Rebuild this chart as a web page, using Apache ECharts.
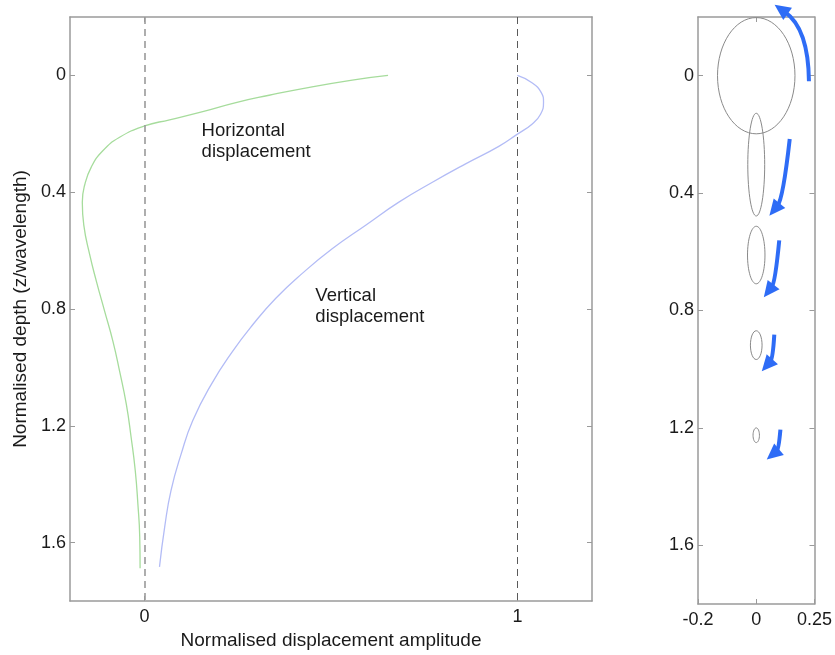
<!DOCTYPE html>
<html>
<head>
<meta charset="utf-8">
<script src="https://cdn.jsdelivr.net/npm/echarts@6/dist/echarts.min.js"></script>
<style>
html,body{margin:0;padding:0;background:#fff;}
#chart{width:835px;height:655px;}
</style>
</head>
<body>
<div id="chart"></div>
<script>
// ---- Data ----
var depthTicks = [0, 0.4, 0.8, 1.2, 1.6];
var ampTicks = [0, 1];
var orbitXTicks = [-0.2, 0, 0.2];
var orbitXTickLabels = ['-0.2', '0', '0.25'];

// Horizontal displacement (green)
var horizDepth = [0.0, 0.016, 0.045, 0.068, 0.093, 0.124, 0.152, 0.173, 0.212, 0.258, 0.314, 0.377, 0.434, 0.513, 0.615, 0.706, 0.808, 0.910, 1.013, 1.126, 1.240, 1.353, 1.467, 1.580, 1.688];
var horizAmp   = [0.653, 0.557, 0.424, 0.334, 0.245, 0.156, 0.067, 0.0, -0.067, -0.112, -0.143, -0.161, -0.167, -0.163, -0.147, -0.129, -0.107, -0.085, -0.067, -0.049, -0.036, -0.025, -0.018, -0.013, -0.012];

// Vertical displacement (blue)
var vertDepth = [0.0, 0.025, 0.059, 0.091, 0.133, 0.167, 0.201, 0.243, 0.303, 0.366, 0.434, 0.513, 0.593, 0.678, 0.763, 0.854, 0.945, 1.058, 1.183, 1.297, 1.421, 1.546, 1.683];
var vertAmp   = [1.0, 1.039, 1.064, 1.070, 1.062, 1.039, 1.0, 0.950, 0.861, 0.772, 0.682, 0.593, 0.504, 0.423, 0.352, 0.290, 0.236, 0.179, 0.129, 0.098, 0.071, 0.054, 0.040];

// Particle orbits (right panel): centre depth, semi-axes
var orbitDepth = [0, 0.303, 0.611, 0.918, 1.225];
var orbitRx    = [0.133, 0.029, 0.030, 0.020, 0.011];
var orbitRy    = [0.198, 0.175, 0.098, 0.049, 0.025];

// Motion arrows: tail, control point, tip (data coordinates of right panel)
var arrowTailX = [0.181, 0.115, 0.079, 0.062, 0.083];
var arrowTailY = [0.019, 0.216, 0.561, 0.882, 1.206];
var arrowCtrlX = [0.179, 0.092, 0.065, 0.057, 0.077];
var arrowCtrlY = [-0.160, 0.420, 0.705, 0.964, 1.274];
var arrowTipX  = [0.063, 0.045, 0.026, 0.019, 0.036];
var arrowTipY  = [-0.242, 0.477, 0.755, 1.007, 1.308];

// Annotations
var annoText = ['Horizontal\ndisplacement', 'Vertical\ndisplacement'];
var annoX = [0.153, 0.458];
var annoY = [0.155, 0.720];

// ---- Build ----
var FONT = '"Liberation Sans", Arial, Helvetica, sans-serif';
var AXIS_COLOR = '#9a9a9a';
var TEXT_COLOR = '#1a1a1a';

function zip(a, b) { return a.map(function (v, i) { return [v, b[i]]; }); }

var chart = echarts.init(document.getElementById('chart'), null, {renderer: 'canvas'});

function boxAxis(extra) {
  var base = {
    type: 'value',
    axisLine: {show: true, onZero: false, lineStyle: {color: AXIS_COLOR, width: 1.5}},
    axisTick: {show: true, inside: true, length: 5, lineStyle: {color: AXIS_COLOR, width: 1}},
    axisLabel: {show: false},
    splitLine: {show: false}
  };
  return Object.assign(base, extra);
}

var option = {
  animation: false,
  backgroundColor: '#fff',
  grid: [
    {left: 70, right: 243, top: 17, bottom: 51},
    {left: 698, right: 17, top: 17, bottom: 51}
  ],
  xAxis: [
    boxAxis({gridIndex: 0, position: 'bottom', min: -0.2, max: 1.2,
      axisTick: {show: true, inside: true, length: 5, customValues: ampTicks, lineStyle: {color: AXIS_COLOR}},
      axisLabel: {show: true, customValues: ampTicks, margin: 7, color: TEXT_COLOR, fontSize: 18, fontFamily: FONT},
      name: 'Normalised displacement amplitude', nameLocation: 'middle', nameGap: 30,
      nameTextStyle: {color: TEXT_COLOR, fontSize: 19, fontFamily: FONT}
    }),
    boxAxis({gridIndex: 0, position: 'top', min: -0.2, max: 1.2,
      axisTick: {show: true, inside: true, length: 5, customValues: ampTicks, lineStyle: {color: AXIS_COLOR}},
      axisLabel: {show: false, customValues: ampTicks}
    }),
    boxAxis({gridIndex: 1, position: 'bottom', min: -0.2, max: 0.2,
      axisTick: {show: true, inside: true, length: 5, customValues: orbitXTicks, lineStyle: {color: AXIS_COLOR}},
      axisLabel: {show: true, customValues: orbitXTicks, margin: 7, color: TEXT_COLOR, fontSize: 18, fontFamily: FONT,
        formatter: function (v) {
          for (var i = 0; i < orbitXTicks.length; i++) { if (Math.abs(orbitXTicks[i] - v) < 1e-9) return orbitXTickLabels[i]; }
          return '';
        }}
    }),
    boxAxis({gridIndex: 1, position: 'top', min: -0.2, max: 0.2,
      axisTick: {show: true, inside: true, length: 5, customValues: [0], lineStyle: {color: AXIS_COLOR}},
      axisLabel: {show: false, customValues: [0]}
    })
  ],
  yAxis: [
    boxAxis({gridIndex: 0, position: 'left', min: -0.2, max: 1.8, inverse: true,
      axisTick: {show: true, inside: true, length: 5, customValues: depthTicks, lineStyle: {color: AXIS_COLOR}},
      axisLabel: {show: true, customValues: depthTicks, margin: 4, color: TEXT_COLOR, fontSize: 18, fontFamily: FONT},
      name: 'Normalised depth (z/wavelength)', nameLocation: 'middle', nameGap: 36, nameRotate: 90,
      nameTextStyle: {color: TEXT_COLOR, fontSize: 19, fontFamily: FONT}
    }),
    boxAxis({gridIndex: 0, position: 'right', min: -0.2, max: 1.8, inverse: true,
      axisTick: {show: true, inside: true, length: 5, customValues: depthTicks, lineStyle: {color: AXIS_COLOR}},
      axisLabel: {show: false, customValues: depthTicks}
    }),
    boxAxis({gridIndex: 1, position: 'left', min: -0.2, max: 1.8, inverse: true,
      axisTick: {show: true, inside: true, length: 5, customValues: depthTicks, lineStyle: {color: AXIS_COLOR}},
      axisLabel: {show: true, customValues: depthTicks, margin: 4, color: TEXT_COLOR, fontSize: 18, fontFamily: FONT}
    }),
    boxAxis({gridIndex: 1, position: 'right', min: -0.2, max: 1.8, inverse: true,
      axisTick: {show: true, inside: true, length: 5, customValues: depthTicks, lineStyle: {color: AXIS_COLOR}},
      axisLabel: {show: false, customValues: depthTicks}
    })
  ],
  series: [
    {
      name: 'Horizontal displacement',
      type: 'line', xAxisIndex: 0, yAxisIndex: 0,
      data: zip(horizAmp, horizDepth),
      showSymbol: false, smooth: 0.5,
      lineStyle: {color: '#a6dc9c', width: 1.3},
      markLine: {
        silent: true, symbol: ['none', 'none'], label: {show: false},
        lineStyle: {type: [7, 5]},
        data: [
          {xAxis: 0, lineStyle: {color: '#9a9a9a', width: 1.6, type: [7, 5]}},
          {xAxis: 1, lineStyle: {color: '#5a5a5a', width: 1, type: [7, 5]}}
        ]
      }
    },
    {
      name: 'Vertical displacement',
      type: 'line', xAxisIndex: 0, yAxisIndex: 0,
      data: zip(vertAmp, vertDepth),
      showSymbol: false, smooth: 0.5,
      lineStyle: {color: '#b3bcf6', width: 1.3}
    },
    {
      name: 'labels',
      type: 'custom', xAxisIndex: 0, yAxisIndex: 0,
      data: zip(annoX, annoY),
      silent: true,
      renderItem: function (params, api) {
        var p = api.coord([api.value(0), api.value(1)]);
        return {
          type: 'text', x: p[0], y: p[1],
          style: {text: annoText[params.dataIndex], fill: TEXT_COLOR, fontSize: 18.5, fontFamily: FONT,
            lineHeight: 21, align: 'left', verticalAlign: 'top'}
        };
      }
    },
    {
      name: 'orbits',
      type: 'custom', xAxisIndex: 2, yAxisIndex: 2,
      data: orbitDepth.map(function (d, i) { return [0, d, orbitRx[i] * 2, orbitRy[i] * 2]; }),
      silent: true,
      renderItem: function (params, api) {
        var c = api.coord([api.value(0), api.value(1)]);
        var s = api.size([api.value(2), api.value(3)], [api.value(0), api.value(1)]);
        return {
          type: 'ellipse',
          shape: {cx: c[0], cy: c[1], rx: s[0] / 2, ry: s[1] / 2},
          style: {fill: 'none', stroke: '#8a8a8a', lineWidth: 1}
        };
      }
    },
    {
      name: 'arrows',
      type: 'custom', xAxisIndex: 2, yAxisIndex: 2,
      clip: false,
      data: arrowTailX.map(function (v, i) { return [v, arrowTailY[i], arrowCtrlX[i], arrowCtrlY[i], arrowTipX[i], arrowTipY[i]]; }),
      silent: true,
      renderItem: function (params, api) {
        var col = '#2e6cf6';
        var p0 = api.coord([api.value(0), api.value(1)]);
        var c = api.coord([api.value(2), api.value(3)]);
        var p1 = api.coord([api.value(4), api.value(5)]);
        var dx = p1[0] - c[0], dy = p1[1] - c[1];
        var L = Math.sqrt(dx * dx + dy * dy) || 1; dx /= L; dy /= L;
        var hl = 16, hw = 7.5;
        var base = [p1[0] - dx * hl, p1[1] - dy * hl];
        var nx = -dy, ny = dx;
        return {
          type: 'group',
          children: [
            {type: 'bezierCurve',
             shape: {x1: p0[0], y1: p0[1], cpx1: c[0], cpy1: c[1], x2: base[0] + dx * 3, y2: base[1] + dy * 3},
             style: {fill: 'none', stroke: col, lineWidth: 4}},
            {type: 'polygon',
             shape: {points: [[p1[0], p1[1]], [base[0] + nx * hw, base[1] + ny * hw], [base[0] - nx * hw, base[1] - ny * hw]]},
             style: {fill: col}}
          ]
        };
      }
    }
  ]
};
chart.setOption(option);
</script>
</body>
</html>
